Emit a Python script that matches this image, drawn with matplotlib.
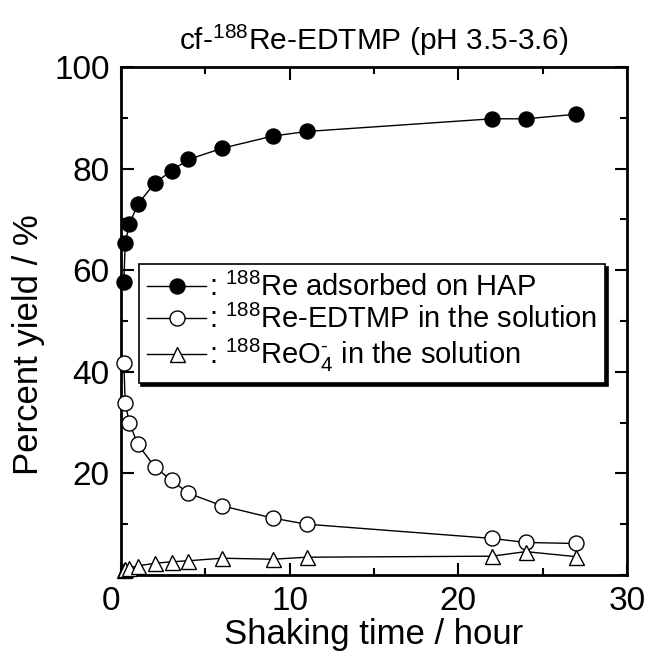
import matplotlib
matplotlib.use('Agg')
import matplotlib.pyplot as plt
import matplotlib.transforms as mtransforms
from matplotlib.ticker import MultipleLocator

plt.rcParams['font.family'] = ['Liberation Sans', 'DejaVu Sans']
plt.rcParams['mathtext.fontset'] = 'custom'
plt.rcParams['mathtext.rm'] = 'Liberation Sans'
plt.rcParams['mathtext.it'] = 'Liberation Sans'
plt.rcParams['mathtext.default'] = 'rm'

# --- datos ---
time_h = [0.17, 0.25, 0.5, 1, 2, 3, 4, 6, 9, 11, 22, 24, 27]
re_hap = [57.7, 65.3, 69.1, 73.0, 77.1, 79.6, 81.8, 84.0, 86.4, 87.3, 89.8, 89.8, 90.7]
re_edtmp = [41.7, 33.9, 29.9, 25.7, 21.3, 18.6, 16.1, 13.6, 11.2, 10.0, 7.2, 6.4, 6.2]
reo4 = [1.0, 1.2, 1.4, 1.8, 2.3, 2.6, 2.8, 3.3, 3.1, 3.5, 3.7, 4.6, 3.6]

labels = [r': $^{188}$Re adsorbed on HAP',
          r': $^{188}$Re-EDTMP in the solution',
          r': $^{188}$ReO$_4^{\text{-}}$ in the solution']

fig = plt.figure(figsize=(6.48, 6.56), dpi=100)
ax = fig.add_axes([0.1867, 0.1235, 0.7809, 0.7744])

style = dict(color='black', linewidth=1.0, markersize=10.8,
             markeredgewidth=1.0, markeredgecolor='black',
             clip_on=False, zorder=3)
ax.plot(time_h, re_hap, marker='o', markerfacecolor='black', label=labels[0], **style)
ax.plot(time_h, re_edtmp, marker='o', markerfacecolor='white', label=labels[1], **style)
ax.plot(time_h, reo4, marker='^', markerfacecolor='white', label=labels[2], **style)

ax.set_xlim(0, 30)
ax.set_ylim(0, 100)
ax.set_xticks([0, 10, 20, 30])
ax.set_yticks([20, 40, 60, 80, 100])
ax.xaxis.set_minor_locator(MultipleLocator(5))
ax.yaxis.set_minor_locator(MultipleLocator(10))
ax.tick_params(which='both', direction='in', top=True, right=True,
               width=1.5, labelsize=24, pad=8)
ax.tick_params(which='major', length=9)
ax.tick_params(which='minor', length=5)
for sp in ax.spines.values():
    sp.set_linewidth(2)

# el "0" del eje x aparece desplazado a la izquierda en el original
shift = mtransforms.ScaledTranslation(-10 / 100, 0, fig.dpi_scale_trans)
lbl0 = ax.xaxis.get_major_ticks()[0].label1
lbl0.set_transform(lbl0.get_transform() + shift)

ax.set_xlabel('Shaking time / hour', fontsize=25, labelpad=1)
ax.set_ylabel('Percent yield / %', fontsize=25)
ax.yaxis.set_label_coords(-0.15, 0.453)
ax.set_title(r'cf-$^{188}$Re-EDTMP (pH 3.5-3.6)', fontsize=21.5, pad=12)

leg = ax.legend(loc='upper left', bbox_to_anchor=(0.035, 0.612), fontsize=21,
                handlelength=2.0, handletextpad=0.1, labelspacing=0.1,
                borderpad=0.3, borderaxespad=0, fancybox=False, framealpha=1,
                edgecolor='black', shadow={'color': 'black', 'alpha': 1})
leg.get_frame().set_linewidth(1.2)

fig.savefig('out.png', dpi=100)
